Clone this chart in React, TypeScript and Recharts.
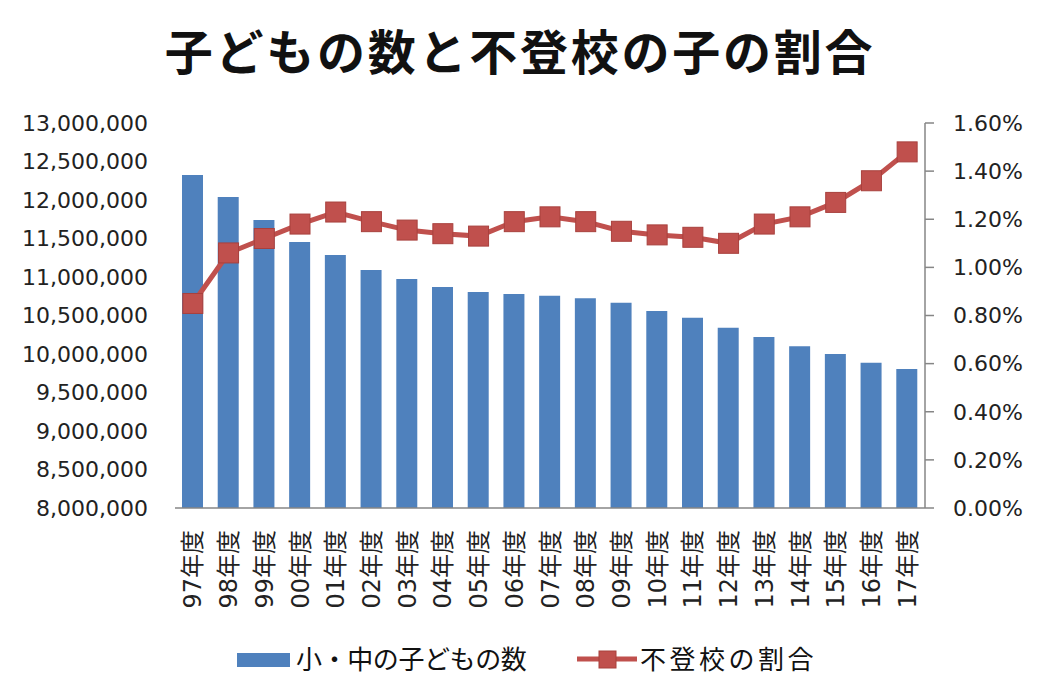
import React from 'react';
import { ComposedChart, Bar, Line, XAxis, YAxis, Legend } from 'recharts';

const categories = ['97年度', '98年度', '99年度', '00年度', '01年度', '02年度', '03年度', '04年度', '05年度', '06年度', '07年度', '08年度', '09年度', '10年度', '11年度', '12年度', '13年度', '14年度', '15年度', '16年度', '17年度'];
const childCounts = [12325000, 12040000, 11740000, 11455000, 11285000, 11090000, 10975000, 10870000, 10805000, 10780000, 10755000, 10725000, 10665000, 10560000, 10470000, 10340000, 10220000, 10100000, 10000000, 9885000, 9805000];
const absentRatio = [0.85, 1.06, 1.12, 1.18, 1.23, 1.19, 1.155, 1.14, 1.13, 1.19, 1.21, 1.19, 1.15, 1.135, 1.125, 1.10, 1.18, 1.21, 1.27, 1.36, 1.48];
const leftTicks = [8000000, 8500000, 9000000, 9500000, 10000000, 10500000, 11000000, 11500000, 12000000, 12500000, 13000000];
const rightTicks = [0, 0.2, 0.4, 0.6, 0.8, 1.0, 1.2, 1.4, 1.6];

const TITLE = '子どもの数と不登校の子の割合';
const BAR_NAME = '小・中の子どもの数';
const LINE_NAME = '不登校の割合';

const data = categories.map((c, i) => ({ cat: c, count: childCounts[i], ratio: absentRatio[i] }));

const BLUE = '#4F81BD';
const RED = '#C0504D';
const AXIS = '#868686';
const FONT = '"DejaVu Sans", "Noto Sans CJK JP", sans-serif';
const CJK = '"Noto Sans CJK JP", sans-serif';

const CatTick = (props: any) => {
  const { x, y, payload } = props;
  return (
    <text
      x={0}
      y={0}
      transform={`translate(${x},${y}) rotate(-90)`}
      textAnchor="end"
      dy="0.36em"
      fontSize={24}
      fill="#222"
      fontFamily={FONT}
    >
      {payload.value}
    </text>
  );
};

const SquareDot = (props: any) => {
  const { cx, cy, index } = props;
  if (cx == null || cy == null) return <g key={index} />;
  return <rect key={index} x={cx - 10} y={cy - 10} width={20} height={20} fill={RED} stroke="#A8403D" strokeWidth={1} />;
};

const LegendContent = () => (
  <svg width={1040} height={44} style={{ display: 'block', overflow: 'visible' }}>
    <rect x={237} y={15} width={53} height={14} fill={BLUE} />
    <text x={296} y={22} dy="0.35em" fontSize={26} fontFamily={CJK} fill="#111" letterSpacing={-0.4}>
      {BAR_NAME}
    </text>
    <line x1={577} x2={637} y1={21} y2={21} stroke={RED} strokeWidth={5} />
    <rect x={599} y={13} width={17} height={17} fill={RED} stroke="#A8403D" strokeWidth={1} />
    <text x={640} y={22} dy="0.35em" fontSize={26} fontFamily={CJK} fill="#111" letterSpacing={3.5}>
      {LINE_NAME}
    </text>
  </svg>
);

export default function App() {
  return (
    <div style={{ position: 'absolute', left: 0, top: 0, width: 1040, height: 699, background: '#fff' }}>
      <div
        style={{
          position: 'absolute',
          left: 0,
          top: 22,
          width: 1040,
          textAlign: 'center',
          fontFamily: CJK,
          fontWeight: 700,
          fontSize: 48,
          lineHeight: '54px',
          letterSpacing: 2.75,
          color: '#111',
          paddingLeft: 0,
          boxSizing: 'border-box',
          whiteSpace: 'nowrap',
        }}
      >
        {TITLE}
      </div>
      <ComposedChart
        width={1040}
        height={699}
        data={data}
        margin={{ top: 123, right: 0, bottom: 17, left: 0 }}
        style={{ position: 'absolute', left: 0, top: 0 }}
      >
        <XAxis
          dataKey="cat"
          xAxisId="x"
          height={130}
          tickLine={false}
          axisLine={{ stroke: AXIS, strokeWidth: 1.5 }}
          interval={0}
          tick={<CatTick />}
          tickMargin={16}
        />
        <YAxis
          yAxisId="left"
          orientation="left"
          width={175}
          domain={[8000000, 13000000]}
          ticks={leftTicks}
          allowDataOverflow
          axisLine={false}
          tickLine={false}
          tickMargin={21}
          tick={{ fontSize: 22, fill: '#222', fontFamily: FONT }}
          tickFormatter={(v: number) => v.toLocaleString('en-US')}
        />
        <YAxis
          yAxisId="right"
          orientation="right"
          width={115}
          domain={[0, 1.6]}
          ticks={rightTicks}
          allowDataOverflow
          axisLine={{ stroke: AXIS, strokeWidth: 1.5 }}
          tickLine={{ stroke: AXIS, strokeWidth: 1.5 }}
          tickSize={9}
          tickMargin={19}
          tick={{ fontSize: 22, fill: '#222', fontFamily: FONT }}
          tickFormatter={(v: number) => v.toFixed(2) + '%'}
        />
        <Legend
          verticalAlign="bottom"
          content={<LegendContent />}
          wrapperStyle={{ position: 'absolute', left: 0, top: 638, width: 1040, height: 44, overflow: 'visible' }}
        />
        <Bar
          xAxisId="x"
          yAxisId="left"
          dataKey="count"
          name={BAR_NAME}
          fill={BLUE}
          barSize={21}
          isAnimationActive={false}
        />
        <Line
          xAxisId="x"
          yAxisId="right"
          dataKey="ratio"
          name={LINE_NAME}
          stroke={RED}
          strokeWidth={5}
          dot={<SquareDot />}
          activeDot={false}
          isAnimationActive={false}
        />
      </ComposedChart>
    </div>
  );
}
